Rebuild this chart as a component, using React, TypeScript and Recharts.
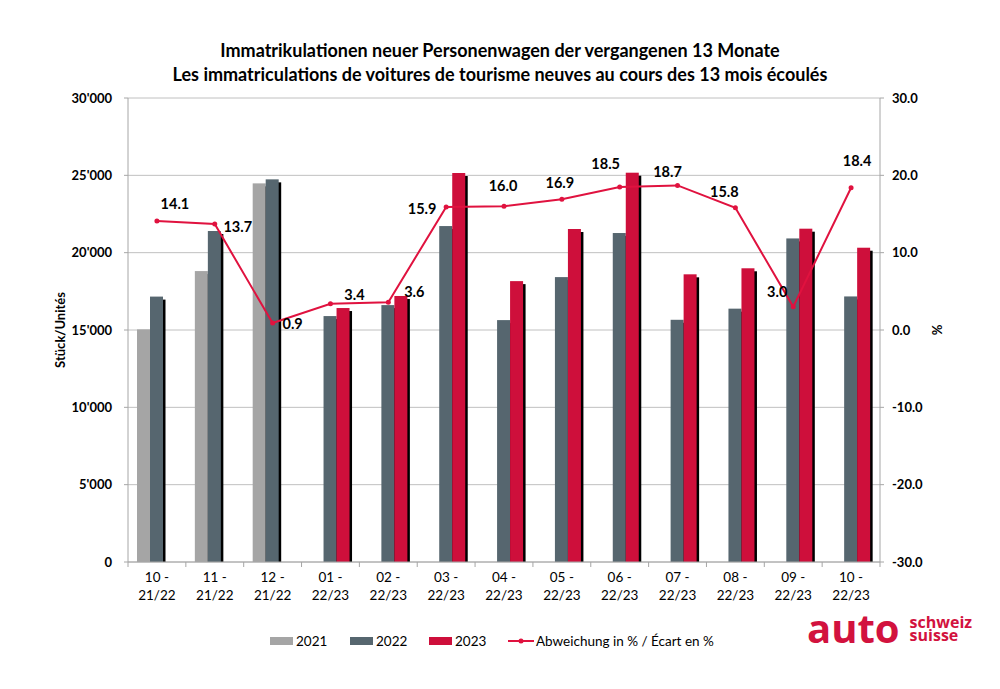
import React from 'react';
import { ComposedChart, Bar, Line, XAxis, YAxis, CartesianGrid } from 'recharts';

const categories = ['10 - 21/22', '11 - 21/22', '12 - 21/22', '01 - 22/23', '02 - 22/23', '03 - 22/23', '04 - 22/23', '05 - 22/23', '06 - 22/23', '07 - 22/23', '08 - 22/23', '09 - 22/23', '10 - 22/23'];
const units2021 = [15040, 18810, 24480, null, null, null, null, null, null, null, null, null, null];
const units2022 = [17160, 21400, 24740, 15900, 16610, 21720, 15640, 18420, 21270, 15660, 16380, 20920, 17170];
const units2023 = [null, null, null, 16420, 17200, 25150, 18160, 21530, 25170, 18600, 18990, 21550, 20320];
const changePct = [14.1, 13.7, 0.9, 3.4, 3.6, 15.9, 16.0, 16.9, 18.5, 18.7, 15.8, 3.0, 18.4];
const leftTicks = [0, 5000, 10000, 15000, 20000, 25000, 30000];
const rightTicks = [-30, -20, -10, 0, 10, 20, 30];
const legendLabels = ['2021', '2022', '2023', 'Abweichung in % / Écart en %'];

// label nudges (dx, dy) relative to each point – styling only
const labelNudge: [number, number][] = [
  [18, -16], [23, 4], [20, 2], [24, -7], [26, -9], [-24, 3], [-1, -19],
  [-2, -15], [-14, -22], [-10, -12], [-11, -15], [-16, -14], [6, -25],
];

const data = categories.map((c, i) => ({
  cat: c,
  y2021: units2021[i],
  y2022: units2022[i],
  y2023: units2023[i],
  pct: changePct[i],
}));

const C2021 = '#A5A5A5';
const C2022 = '#56666F';
const C2023 = '#CE0F3B';
const CLINE = '#E0123F';
const AXIS = '#A6A6A6';
const FONT = 'Lato, "Open Sans", sans-serif';

const PLOT_LEFT = 128;
const PLOT_RIGHT = 880;
const BAND = (PLOT_RIGHT - PLOT_LEFT) / categories.length;

const fmtThousands = (v: number) => {
  const s = String(Math.round(v));
  return s.replace(/\B(?=(\d{3})+(?!\d))/g, "'");
};

const ShadowBar = (props: any) => {
  const { x, y, width, height, fill } = props;
  if (height == null || height <= 0 || x == null) return null;
  return (
    <g>
      <rect x={x + 2.5} y={y + 3} width={width} height={Math.max(0, height - 3)} fill="#000" />
      <rect x={x} y={y} width={width} height={height} fill={fill} />
    </g>
  );
};

const XTick = (props: any) => {
  const { x, y, payload, index } = props;
  const parts = String(payload.value).split(' - ');
  const top = y - 8;
  return (
    <g>
      <line x1={x - BAND / 2} x2={x - BAND / 2} y1={top} y2={top + 5} stroke={AXIS} />
      {index === categories.length - 1 && (
        <line x1={x + BAND / 2} x2={x + BAND / 2} y1={top} y2={top + 5} stroke={AXIS} />
      )}
      <text x={x} y={top + 17} textAnchor="middle" dominantBaseline="middle" fontFamily={FONT} fontSize={13.5} fill="#000">
        {parts[0] + ' -'}
      </text>
      <text x={x} y={top + 35} textAnchor="middle" dominantBaseline="middle" fontFamily={FONT} fontSize={13.5} fill="#000">
        {parts[1]}
      </text>
    </g>
  );
};

const PctLabel = (props: any) => {
  const { x, y, index, value } = props;
  if (x == null || y == null) return null;
  const [dx, dy] = labelNudge[index] || [0, -14];
  return (
    <text x={x + dx} y={y + dy} textAnchor="middle" dominantBaseline="middle" fontFamily={FONT} fontWeight={700} fontSize={14.5} fill="#000">
      {Number(value).toFixed(1)}
    </text>
  );
};

export default function App() {
  return (
    <div style={{ position: 'absolute', left: 0, top: 0, width: 1000, height: 689, background: '#fff', fontFamily: FONT, overflow: 'hidden' }}>
      <div style={{ position: 'absolute', left: 0, width: 1000, top: 38, textAlign: 'center', fontWeight: 700, fontSize: 18, lineHeight: '24px', color: '#000' }}>
        <div>Immatrikulationen neuer Personenwagen der vergangenen 13 Monate</div>
        <div>Les immatriculations de voitures de tourisme neuves au cours des 13 mois écoulés</div>
      </div>

      <div style={{ position: 'absolute', left: 0, top: 0 }}>
        <ComposedChart width={1000} height={689} data={data} margin={{ top: 98, right: 0, bottom: 0, left: 0 }} barGap={0} barSize={13}>
          <CartesianGrid yAxisId="left" vertical={false} stroke="#C0C0C0" />
          <XAxis dataKey="cat" height={127} interval={0} tick={<XTick />} tickLine={false} axisLine={{ stroke: AXIS }} />
          <YAxis
            yAxisId="left"
            orientation="left"
            width={128}
            domain={[0, 30000]}
            ticks={leftTicks}
            tickFormatter={fmtThousands}
            axisLine={{ stroke: AXIS }}
            tickLine={{ stroke: AXIS }}
            tickSize={4}
            tickMargin={12}
            tick={{ fontFamily: FONT, fontWeight: 700, fontSize: 13, fill: '#000' }}
          />
          <YAxis
            yAxisId="right"
            orientation="right"
            width={120}
            domain={[-30, 30]}
            ticks={rightTicks}
            tickFormatter={(v: number) => v.toFixed(1)}
            axisLine={{ stroke: AXIS }}
            tickLine={{ stroke: AXIS }}
            tickSize={4}
            tickMargin={8}
            tick={{ fontFamily: FONT, fontWeight: 700, fontSize: 13, fill: '#000', textAnchor: 'start' }}
          />
          <Bar yAxisId="left" dataKey="y2021" name={legendLabels[0]} fill={C2021} shape={<ShadowBar />} isAnimationActive={false} />
          <Bar yAxisId="left" dataKey="y2022" name={legendLabels[1]} fill={C2022} shape={<ShadowBar />} isAnimationActive={false} />
          <Bar yAxisId="left" dataKey="y2023" name={legendLabels[2]} fill={C2023} shape={<ShadowBar />} isAnimationActive={false} />
          <Line
            yAxisId="right"
            dataKey="pct"
            name={legendLabels[3]}
            stroke={CLINE}
            strokeWidth={2}
            dot={{ r: 2.5, fill: CLINE, stroke: CLINE, strokeWidth: 0 }}
            label={<PctLabel />}
            isAnimationActive={false}
          />
        </ComposedChart>
      </div>

      <div style={{ position: 'absolute', left: 60, top: 330, transform: 'translate(-50%, -50%) rotate(-90deg)', fontWeight: 700, fontSize: 13, whiteSpace: 'nowrap' }}>
        Stück/Unités
      </div>
      <div style={{ position: 'absolute', left: 937, top: 330, transform: 'translate(-50%, -50%) rotate(-90deg)', fontWeight: 700, fontSize: 13, whiteSpace: 'nowrap' }}>
        %
      </div>

      {/* legend */}
      <div style={{ position: 'absolute', top: 632, left: 0, height: 18, fontSize: 13.5, color: '#000' }}>
        {[C2021, C2022, C2023].map((c, i) => (
          <div key={i} style={{ position: 'absolute', left: [270, 350, 429][i], top: 0, display: 'flex', alignItems: 'center', height: 18, whiteSpace: 'nowrap' }}>
            <span style={{ display: 'inline-block', width: 23, height: 8, background: c, marginRight: 3 }} />
            <span>{legendLabels[i]}</span>
          </div>
        ))}
        <div style={{ position: 'absolute', left: 508, top: 0, display: 'flex', alignItems: 'center', height: 18, whiteSpace: 'nowrap' }}>
          <svg width={26} height={8} style={{ marginRight: 2 }}>
            <line x1={0} y1={4} x2={26} y2={4} stroke={CLINE} strokeWidth={2} />
            <circle cx={13} cy={4} r={2.5} fill={CLINE} />
          </svg>
          <span>{legendLabels[3]}</span>
        </div>
      </div>

      {/* logo */}
      <div style={{ position: 'absolute', left: 807, top: 612, display: 'flex', alignItems: 'flex-end', color: '#D2123E', fontFamily: '"Open Sans", Lato, sans-serif', fontWeight: 700 }}>
        <span style={{ fontSize: 40, lineHeight: '32px', height: 32, letterSpacing: 0 }}>auto</span>
        <span style={{ display: 'flex', flexDirection: 'column', fontSize: 16, lineHeight: '13px', marginLeft: 10, marginBottom: 2 }}>
          <span>schweiz</span>
          <span>suisse</span>
        </span>
      </div>
    </div>
  );
}
